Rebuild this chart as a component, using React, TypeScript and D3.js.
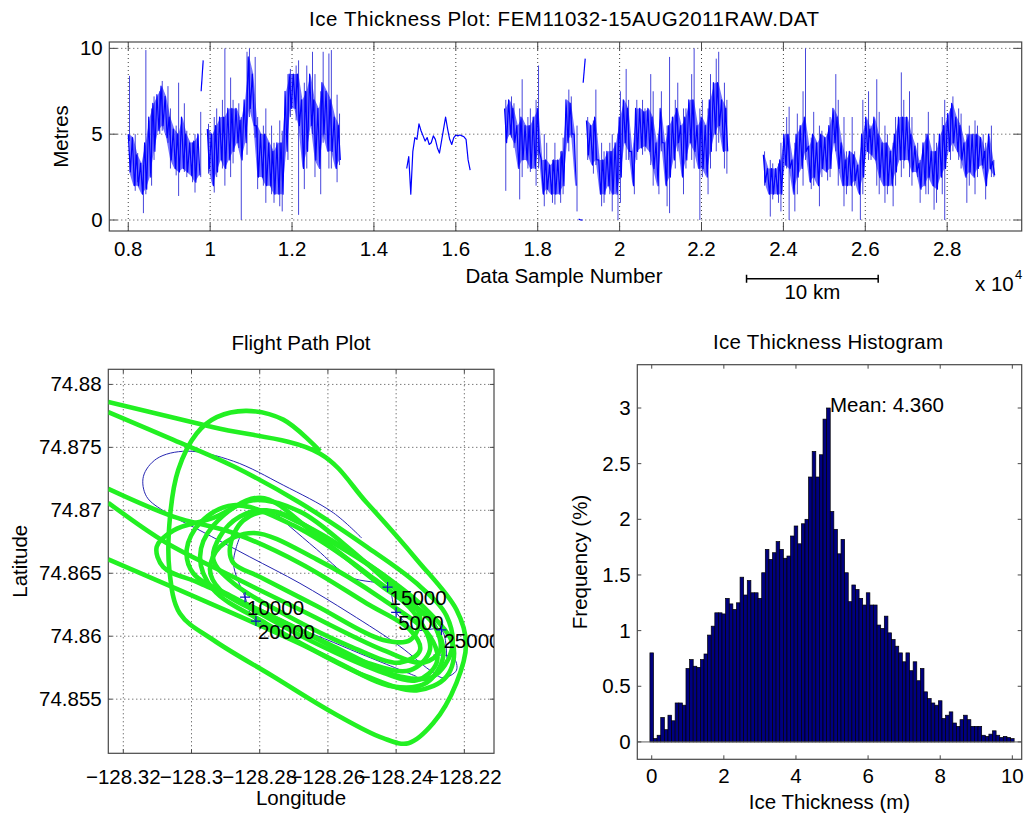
import React from 'react';
import * as d3 from 'd3';

const FONT = '"Liberation Sans", Arial, Helvetica, sans-serif';
const FS = 20.5;

// ---------------- Ice thickness trace (metres) ----------------
// Dense part of the record, per 100-sample window:
//   *Band  = (upper, lower) of the dense band      -> drawn as one value every 50 samples
//   *Range = (max, min) reached inside the window   -> thin excursions
const SAMPLE_STEP = 50;
const trace1aStart = 8000;
const trace1aBand = [5.0,2.8, 4.8,2.0, 3.8,2.0, 3.3,1.5, 4.5,1.8, 6.0,2.5, 6.8,4.0, 7.3,5.2, 7.8,5.5, 7.2,4.8, 6.0,3.5, 5.3,3.0, 5.0,2.8, 6.0,3.0, 5.0,2.8, 4.5,2.6, 4.6,2.2, 5.0,2.6];
const trace1aRange = [8.4,4.6, 5.0,1.7, 3.9,2.2, 3.2,0.4, 9.9,1.5, 6.5,2.0, 7.2,3.5, 7.5,5.0, 8.1,5.2, 7.8,4.5, 6.5,3.0, 5.5,2.6, 8.0,1.4, 6.8,2.8, 5.2,2.5, 4.5,2.2, 5.0,1.6, 6.3,2.5];
const trace1bStart = 9780;
const trace1b = [7.5, 9.3];
const trace1cStart = 9930;
const trace1cBand = [5.3,3.0, 5.0,2.0, 5.5,2.8, 6.0,3.5, 6.0,3.0, 6.5,3.5, 6.5,4.0, 6.5,4.5, 5.8,3.5, 7.0,4.5, 9.5,6.5, 8.5,5.5, 5.5,2.5, 5.0,2.5, 5.0,2.0, 4.5,2.0, 4.0,1.5, 4.5,1.5, 4.5,1.5, 7.5,4.0, 8.5,6.5, 8.5,6.5, 8.5,5.5, 7.0,3.0, 7.5,4.0, 8.5,5.5, 7.0,3.5, 6.5,3.0, 8.0,5.0, 7.5,4.0, 7.0,4.0, 6.0,3.0, 5.5,3.5];
const trace1cRange = [5.6,2.7, 6.0,1.6, 6.5,2.5, 7.0,3.0, 10.0,2.0, 8.3,2.5, 7.0,3.3, 6.8,4.2, 6.0,0.0, 9.8,3.8, 10.0,6.0, 9.5,4.8, 6.0,1.8, 5.5,2.0, 6.5,1.0, 5.5,1.5, 4.5,1.0, 5.8,0.8, 5.2,0.5, 8.5,3.5, 8.8,6.0, 9.0,5.8, 9.3,0.3, 8.0,1.8, 9.0,3.0, 9.8,5.0, 8.5,2.5, 7.5,1.5, 9.8,4.5, 9.7,3.0, 9.9,3.0, 7.3,2.2, 6.2,3.2];
const trace2Start = 14800;
const trace2 = [3.0, 3.7, 1.5, 4.0, 4.8, 4.7, 5.6, 5.2, 4.9, 4.6, 4.8, 4.4, 4.5, 4.9, 4.7, 4.2, 3.9, 4.6, 5.3, 6.0, 5.3, 4.7, 4.4, 4.8, 4.95, 4.9, 4.95, 4.9, 4.85, 4.7, 3.5, 2.9];
const trace3aStart = 17190;
const trace3aBand = [6.5,4.5, 7.0,5.0, 6.5,4.5, 5.5,3.0, 6.0,3.5, 5.5,3.5, 5.5,3.0, 6.0,3.0, 6.5,4.0, 3.5,1.5, 3.5,1.8, 3.2,1.5, 3.5,1.5, 3.5,1.5, 4.0,2.0, 7.0,4.5, 6.8,5.0, 5.0,2.0];
const trace3aRange = [7.0,1.7, 7.2,4.8, 6.8,4.2, 6.5,1.2, 8.2,2.5, 6.0,3.0, 6.5,2.8, 7.0,2.0, 9.0,3.0, 5.0,0.8, 4.5,1.5, 3.5,1.0, 4.5,0.9, 4.0,1.0, 4.8,1.5, 7.6,4.0, 7.2,4.8, 5.5,0.5];
const trace3zStart = 19000;
const trace3z = [0.05, 0.0, 0.0];
const trace3bStart = 19110;
const trace3b = [8.0, 9.4];
const trace3cStart = 19190;
const trace3cBand = [5.8,3.8, 5.5,3.2, 6.0,3.5, 3.5,1.5, 3.5,1.5, 4.0,2.0, 4.0,1.5, 4.5,1.5, 6.0,2.5, 7.0,4.5, 6.5,4.0, 4.0,2.0, 6.5,4.0, 6.5,4.2, 6.3,4.3, 6.5,4.0, 6.0,3.0, 4.5,2.0, 6.5,4.5, 4.5,2.0, 5.5,2.5, 6.0,3.5, 6.5,4.5, 5.5,2.5, 6.0,3.5, 7.0,4.5, 7.0,4.0, 5.5,3.0, 6.0,3.0, 5.5,2.5, 7.0,4.0, 8.0,5.0, 8.0,5.5, 7.0,4.0, 6.5,4.0];
const trace3cRange = [6.0,3.5, 5.8,2.7, 7.6,3.2, 4.5,0.8, 4.0,1.0, 4.5,1.5, 5.0,0.5, 5.0,0.0, 7.5,1.0, 8.8,3.5, 7.0,3.5, 4.5,1.5, 7.0,3.5, 7.0,3.8, 6.5,4.0, 8.5,3.2, 7.5,2.0, 5.0,1.5, 7.5,4.0, 5.5,0.8, 9.5,0.4, 7.0,3.0, 8.0,4.0, 6.5,1.5, 6.5,3.0, 8.5,3.5, 10.0,3.0, 6.5,0.0, 7.0,2.5, 6.5,1.5, 8.5,3.0, 9.4,4.0, 9.8,4.5, 8.0,3.0, 7.0,2.7];
const trace4Start = 23510;
const trace4Band = [3.8,2.2, 3.0,1.5, 3.0,1.5, 3.0,1.5, 3.5,1.5, 5.0,3.2, 5.0,3.0, 3.5,1.5, 5.0,2.5, 5.5,3.0, 6.0,4.0, 4.3,2.2, 5.0,2.5, 4.5,2.0, 5.0,3.0, 4.8,2.8, 5.5,3.0, 6.5,4.5, 6.0,3.0, 4.5,2.0, 3.5,2.0, 4.0,2.0, 3.8,2.3, 3.2,1.5, 5.0,2.5, 6.0,4.0, 5.3,3.8, 6.0,3.5, 5.0,2.5, 4.5,2.0, 4.5,2.0, 4.0,2.0, 5.0,2.8, 6.0,3.5, 6.0,3.5, 6.0,3.5, 5.0,2.8, 4.3,2.8, 3.3,1.8, 4.5,2.0, 5.0,2.5, 4.0,2.0, 4.0,1.8, 5.0,2.5, 5.5,3.0, 6.2,4.0, 6.8,4.5, 6.0,4.0, 5.5,3.5, 4.5,2.5, 5.0,2.8, 5.0,2.5, 5.0,3.0, 4.8,3.2, 4.0,2.0, 5.0,3.0, 3.4,2.6];
const trace4Range = [4.0,2.0, 3.5,0.2, 3.3,1.2, 3.3,1.0, 4.5,0.5, 6.0,3.0, 6.6,0.0, 4.5,0.5, 6.2,1.5, 7.5,2.0, 10.0,3.5, 4.8,1.8, 6.3,2.0, 5.5,0.8, 5.2,2.5, 5.0,2.3, 6.0,2.5, 8.5,4.0, 7.0,2.0, 6.0,0.8, 4.0,1.5, 6.0,0.5, 4.0,2.0, 3.5,0.0, 7.0,1.5, 7.5,3.5, 5.5,3.5, 8.2,2.0, 6.3,1.5, 5.5,1.0, 5.0,1.5, 4.5,0.8, 6.0,2.0, 8.6,2.5, 7.0,3.0, 7.5,2.5, 6.0,2.0, 4.5,2.5, 3.5,1.0, 5.0,1.5, 6.3,1.5, 5.0,0.6, 4.5,1.0, 6.0,1.5, 7.0,0.0, 6.5,3.5, 7.2,4.0, 6.5,3.5, 6.2,3.0, 5.0,1.0, 5.5,2.0, 5.8,1.5, 5.5,2.5, 5.0,3.0, 4.5,1.2, 5.5,2.5, 3.5,2.5];

const topXDomain = [7537, 29820];
const topYDomain = [-0.64, 10.37];
const topXTicks = [8000, 10000, 12000, 14000, 16000, 18000, 20000, 22000, 24000, 26000, 28000];
const topYTicks = [0, 5, 10];
const scaleBarStartSample = 23100;
const scaleBarSamples = 3215; // 10 km

// ---------------- Flight path (lon, lat) ----------------
const greenTrack1: [number, number][] = [[-128.3244,74.8786],[-128.2936,74.8766],[-128.2623,74.8745],[-128.2486,74.8706],[-128.2340,74.8661],[-128.2223,74.8621],[-128.2195,74.8594],[-128.2223,74.8563],[-128.2291,74.8531],[-128.2364,74.8515],[-128.2438,74.8519],[-128.2584,74.8539],[-128.2760,74.8568],[-128.2936,74.8597],[-128.3034,74.8618],[-128.3065,74.8653],[-128.3063,74.8695],[-128.3039,74.8732],[-128.2985,74.8761],[-128.2926,74.8774],[-128.2838,74.8779],[-128.2731,74.8772],[-128.2623,74.8747]];
const greenTrack2: [number, number][] = [[-128.3244,74.8778],[-128.3053,74.8756],[-128.2877,74.8735],[-128.2682,74.8706],[-128.2486,74.8671],[-128.2340,74.8642],[-128.2252,74.8616],[-128.2237,74.8589],[-128.2291,74.8568],[-128.2389,74.8568],[-128.2584,74.8592],[-128.2780,74.8618],[-128.2975,74.8642],[-128.3083,74.8655],[-128.3102,74.8671],[-128.3053,74.8684],[-128.2936,74.8694],[-128.2819,74.8708],[-128.2682,74.8699],[-128.2535,74.8669],[-128.2389,74.8634],[-128.2291,74.8610],[-128.2271,74.8589],[-128.2320,74.8579],[-128.2438,74.8589],[-128.2682,74.8621],[-128.2877,74.8647],[-128.3073,74.8674],[-128.3244,74.8706]];
const greenTrack3: [number, number][] = [[-128.3244,74.8717],[-128.3053,74.8695],[-128.2877,74.8682],[-128.2682,74.8658],[-128.2486,74.8626],[-128.2359,74.8605],[-128.2330,74.8589],[-128.2389,74.8579],[-128.2535,74.8592],[-128.2731,74.8618],[-128.2877,74.8642],[-128.2936,74.8661],[-128.2917,74.8679],[-128.2858,74.8695],[-128.2780,74.8700],[-128.2682,74.8690],[-128.2486,74.8658],[-128.2311,74.8621],[-128.2232,74.8592],[-128.2252,74.8568],[-128.2340,74.8557],[-128.2486,74.8568],[-128.2682,74.8594],[-128.2877,74.8618],[-128.3244,74.8661]];
const greenLoop1: [number, number][] = [[-128.2887,74.8671],[-128.2848,74.8692],[-128.2760,74.8699],[-128.2584,74.8674],[-128.2408,74.8642],[-128.2330,74.8616],[-128.2359,74.8597],[-128.2438,74.8597],[-128.2633,74.8624],[-128.2799,74.8647],[-128.2877,74.8658]];
const greenLoop2: [number, number][] = [[-128.2975,74.8663],[-128.2936,74.8688],[-128.2799,74.8710],[-128.2633,74.8680],[-128.2438,74.8639],[-128.2291,74.8610],[-128.2262,74.8584],[-128.2311,74.8563],[-128.2408,74.8560],[-128.2584,74.8581],[-128.2780,74.8610],[-128.2936,74.8637]];
const greenLoop3: [number, number][] = [[-128.3014,74.8669],[-128.2975,74.8690],[-128.2877,74.8704],[-128.2701,74.8688],[-128.2486,74.8650],[-128.2340,74.8616],[-128.2301,74.8589],[-128.2359,74.8573],[-128.2486,74.8579],[-128.2682,74.8605],[-128.2877,74.8631],[-128.2995,74.8650]];
const greenLoop4: [number, number][] = [[-128.2946,74.8653],[-128.2917,74.8671],[-128.2819,74.8682],[-128.2633,74.8661],[-128.2438,74.8629],[-128.2301,74.8600],[-128.2281,74.8579],[-128.2340,74.8565],[-128.2457,74.8573],[-128.2633,74.8594],[-128.2799,74.8618],[-128.2917,74.8637]];
const blueTrack1: [number, number][] = [[-128.2501,74.8678],[-128.2584,74.8698],[-128.2731,74.8720],[-128.2877,74.8739],[-128.3014,74.8747],[-128.3102,74.8741],[-128.3141,74.8727],[-128.3132,74.8711],[-128.3073,74.8698],[-128.2975,74.8684],[-128.2829,74.8663],[-128.2682,74.8642],[-128.2535,74.8618],[-128.2389,74.8592],[-128.2301,74.8573],[-128.2262,74.8567],[-128.2223,74.8573],[-128.2232,74.8583],[-128.2291,74.8585]];
const blueTrack2: [number, number][] = [[-128.2868,74.8692],[-128.2838,74.8699],[-128.2760,74.8698],[-128.2711,74.8687],[-128.2633,74.8669],[-128.2535,74.8647],[-128.2425,74.8639],[-128.2400,74.8619],[-128.2340,74.8605],[-128.2267,74.8605],[-128.2252,74.8583]];
const blueTrack3: [number, number][] = [[-128.2858,74.8679],[-128.2877,74.8658],[-128.2843,74.8631],[-128.2811,74.8612],[-128.2682,74.8605],[-128.2486,74.8584],[-128.2340,74.8568]];
const markerLabels = ['5000', '10000', '15000', '20000', '25000'];
const markerLon = [-128.2400, -128.2843, -128.2425, -128.2811, -128.2267];
const markerLat = [74.8619, 74.8631, 74.8639, 74.8612, 74.8605];

const fpXDomain = [-128.3244, -128.2113];
const fpYDomain = [74.8507, 74.8812];
const fpXTicks = [-128.32, -128.3, -128.28, -128.26, -128.24, -128.22];
const fpYTicks = [74.855, 74.86, 74.865, 74.87, 74.875, 74.88];

// ---------------- Histogram ----------------
const histBinWidth = 0.1;
const histFreq = [0.80,0.03,0.06,0.22,0.11,0.24,0.19,0.35,0.35,0.33,
  0.66,0.74,0.68,0.67,0.74,0.79,0.96,1.04,1.16,1.16,
  1.15,1.29,1.24,1.19,1.25,1.48,1.32,1.45,1.34,1.34,
  1.29,1.52,1.73,1.64,1.70,1.80,1.73,1.65,1.67,1.85,
  1.94,1.78,1.96,2.00,2.38,2.61,2.38,2.58,2.90,3.00,
  2.07,1.91,1.69,1.82,1.52,1.26,1.41,1.37,1.29,1.23,
  1.34,1.23,1.23,1.05,1.02,1.13,0.98,0.92,0.86,0.80,
  0.72,0.80,0.64,0.72,0.55,0.66,0.45,0.39,0.35,0.33,
  0.37,0.21,0.24,0.27,0.17,0.14,0.20,0.24,0.20,0.14,
  0.14,0.14,0.06,0.05,0.07,0.10,0.06,0.04,0.05,0.04,0.03];
const histMean = 4.360;
const histXDomain = [-0.4, 10.26];
const histYDomain = [-0.156, 3.389];
const histXTicks = [0, 2, 4, 6, 8, 10];
const histYTicks = [0, 0.5, 1, 1.5, 2, 2.5, 3];

// ---------------- layout ----------------
const TOPBOX = { l: 109.3, r: 1021.7, t: 42, b: 231 };
const FPBOX = { l: 108.3, r: 494, t: 369.3, b: 753.3 };
const HBOX = { l: 637.3, r: 1021.7, t: 364.7, b: 759.3 };

const AXIS_COLOR = '#484848';
const GRID_COLOR = '#404040';

const minus = (s: string) => s.replace('-', '\u2212');

function Frame({ box, x, y, xTicks, yTicks, tickLen, grid }: any) {
  const els: any[] = [];
  if (grid) {
    xTicks.forEach((t: number, i: number) => els.push(
      <line key={'gx' + i} x1={x(t)} x2={x(t)} y1={box.t} y2={box.b} stroke={GRID_COLOR} strokeWidth={1} strokeDasharray="1,3" />));
    yTicks.forEach((t: number, i: number) => els.push(
      <line key={'gy' + i} x1={box.l} x2={box.r} y1={y(t)} y2={y(t)} stroke={GRID_COLOR} strokeWidth={1} strokeDasharray="1,3" />));
  }
  xTicks.forEach((t: number, i: number) => {
    els.push(<line key={'tb' + i} x1={x(t)} x2={x(t)} y1={box.b} y2={box.b - tickLen} stroke={AXIS_COLOR} />);
    els.push(<line key={'tt' + i} x1={x(t)} x2={x(t)} y1={box.t} y2={box.t + tickLen} stroke={AXIS_COLOR} />);
  });
  yTicks.forEach((t: number, i: number) => {
    els.push(<line key={'tl' + i} x1={box.l} x2={box.l + tickLen} y1={y(t)} y2={y(t)} stroke={AXIS_COLOR} />);
    els.push(<line key={'tr' + i} x1={box.r} x2={box.r - tickLen} y1={y(t)} y2={y(t)} stroke={AXIS_COLOR} />);
  });
  els.push(<rect key="box" x={box.l} y={box.t} width={box.r - box.l} height={box.b - box.t} fill="none" stroke={AXIS_COLOR} strokeWidth={1.2} />);
  return <g>{els}</g>;
}

function TickLabels({ box, x, y, xTicks, yTicks, xFmt, yFmt, xOffset }: any) {
  return (
    <g fontSize={FS} fill="#000">
      {xTicks.map((t: number, i: number) => (
        <text key={'xl' + i} x={x(t)} y={box.b + xOffset} textAnchor="middle">{xFmt(t)}</text>
      ))}
      {yTicks.map((t: number, i: number) => (
        <text key={'yl' + i} x={box.l - 6.6} y={y(t) + 7} textAnchor="end">{yFmt(t)}</text>
      ))}
    </g>
  );
}

export default function App() {
  // ---- top plot
  const xT = d3.scaleLinear().domain(topXDomain).range([TOPBOX.l, TOPBOX.r]);
  const yT = d3.scaleLinear().domain(topYDomain).range([TOPBOX.b, TOPBOX.t]);
  const denseTraces = [
    { start: trace1aStart, band: trace1aBand, range: trace1aRange },
    { start: trace1cStart, band: trace1cBand, range: trace1cRange },
    { start: trace3aStart, band: trace3aBand, range: trace3aRange },
    { start: trace3cStart, band: trace3cBand, range: trace3cRange },
    { start: trace4Start, band: trace4Band, range: trace4Range },
  ];
  const plainTraces = [
    { start: trace1bStart, values: trace1b },
    { start: trace2Start, values: trace2 },
    { start: trace3zStart, values: trace3z },
    { start: trace3bStart, values: trace3b },
  ];
  const tracePath = (start: number) => d3.line<number>()
    .x((_, i) => xT(start + i * SAMPLE_STEP))
    .y((v) => yT(v));
  const bandArea = (start: number) => d3.area<[number, number]>()
    .x((_, i) => xT(start + i * 2 * SAMPLE_STEP + SAMPLE_STEP / 2))
    .y0((d) => yT(d[1]))
    .y1((d) => yT(d[0]));
  const pairs = (vals: number[]) => d3.range(0, vals.length - 1, 2).map((i) => [vals[i], vals[i + 1]] as [number, number]);

  // ---- flight path
  const xF = d3.scaleLinear().domain(fpXDomain).range([FPBOX.l, FPBOX.r]);
  const yF = d3.scaleLinear().domain(fpYDomain).range([FPBOX.b, FPBOX.t]);
  const openLine = d3.line<[number, number]>().x((d) => xF(d[0])).y((d) => yF(d[1])).curve(d3.curveCatmullRom.alpha(0.5));
  const closedLine = d3.line<[number, number]>().x((d) => xF(d[0])).y((d) => yF(d[1])).curve(d3.curveCatmullRomClosed.alpha(0.5));

  // ---- histogram
  const xH = d3.scaleLinear().domain(histXDomain).range([HBOX.l, HBOX.r]);
  const yH = d3.scaleLinear().domain(histYDomain).range([HBOX.b, HBOX.t]);
  const peakIdx = histFreq.indexOf(d3.max(histFreq) as number);

  const sbX0 = xT(scaleBarStartSample);
  const sbX1 = xT(scaleBarStartSample + scaleBarSamples);
  const sbY = 278.7;

  return (
    <svg width={1024} height={814} style={{ position: 'absolute', left: 0, top: 0, background: '#fff' }} fontFamily={FONT}>
      <defs>
        <clipPath id="clipTop"><rect x={TOPBOX.l} y={TOPBOX.t} width={TOPBOX.r - TOPBOX.l} height={TOPBOX.b - TOPBOX.t} /></clipPath>
        <clipPath id="clipFP"><rect x={FPBOX.l} y={FPBOX.t} width={FPBOX.r - FPBOX.l} height={FPBOX.b - FPBOX.t} /></clipPath>
      </defs>
      <rect x={0} y={0} width={1024} height={814} fill="#fff" />

      {/* ================= Top: ice thickness trace ================= */}
      <Frame box={TOPBOX} x={xT} y={yT} xTicks={topXTicks} yTicks={topYTicks} tickLen={8} grid />
      <g clipPath="url(#clipTop)">
        {denseTraces.map((tr, k) => (
          <g key={'d' + k}>
            {pairs(tr.range).map((p, i) => {
              const xx = xT(tr.start + i * 2 * SAMPLE_STEP + (i % 2 ? 70 : 30));
              return <line key={i} x1={xx} x2={xx} y1={yT(p[0])} y2={yT(p[1])} stroke="#4646dc" strokeWidth={1} />;
            })}
            <path d={bandArea(tr.start)(pairs(tr.band)) || ''} fill="#0000ff" fillOpacity={0.55} stroke="none" />
            <path d={tracePath(tr.start)(tr.band) || ''} fill="none" stroke="#0000ff" strokeWidth={1.2} strokeLinejoin="round" />
          </g>
        ))}
        {plainTraces.map((tr, i) => (
          <path key={'p' + i} d={tracePath(tr.start)(tr.values) || ''} fill="none" stroke="#0000ff" strokeWidth={1.2} strokeLinejoin="round" />
        ))}
      </g>
      <TickLabels box={TOPBOX} x={xT} y={yT} xTicks={topXTicks} yTicks={topYTicks}
        xFmt={(t: number) => String(+(t / 1e4).toFixed(1))} yFmt={(t: number) => String(t)} xOffset={25.3} />
      <text x={564} y={25.5} fontSize={FS} textAnchor="middle" textLength={510} lengthAdjust="spacing">Ice Thickness Plot: FEM11032-15AUG2011RAW.DAT</text>
      <text x={564} y={282.5} fontSize={FS} textAnchor="middle">Data Sample Number</text>
      <text transform="translate(68,136.5) rotate(-90)" fontSize={FS} textAnchor="middle">Metres</text>
      <text x={975} y={290.5} fontSize={FS}>x 10</text>
      <text x={1015} y={278.5} fontSize={13}>4</text>
      <path d={`M${sbX0},${sbY}H${sbX1}M${sbX0},${sbY - 4}V${sbY + 4}M${sbX1},${sbY - 4}V${sbY + 4}`} stroke="#000" strokeWidth={1.5} fill="none" />
      <text x={(sbX0 + sbX1) / 2} y={299} fontSize={FS} textAnchor="middle">10 km</text>

      {/* ================= Flight path ================= */}
      <Frame box={FPBOX} x={xF} y={yF} xTicks={fpXTicks} yTicks={fpYTicks} tickLen={4} grid />
      <g clipPath="url(#clipFP)">
        {[blueTrack1, blueTrack2, blueTrack3].map((t, i) => (
          <path key={'b' + i} d={openLine(t) || ''} fill="none" stroke="#2525b0" strokeWidth={1} />
        ))}
        {[greenTrack1, greenTrack2, greenTrack3].map((t, i) => (
          <path key={'g' + i} d={openLine(t) || ''} fill="none" stroke="#22f022" strokeWidth={4.6} strokeLinejoin="round" />
        ))}
        {[greenLoop1, greenLoop2, greenLoop3, greenLoop4].map((t, i) => (
          <path key={'gl' + i} d={closedLine(t) || ''} fill="none" stroke="#22f022" strokeWidth={4.6} strokeLinejoin="round" />
        ))}
        {markerLabels.map((lab, i) => {
          const px = xF(markerLon[i]);
          const py = yF(markerLat[i]);
          return (
            <g key={'m' + i}>
              <path d={`M${px - 5},${py}H${px + 5}M${px},${py - 5}V${py + 5}`} stroke="#1010c0" strokeWidth={1.2} />
              <text x={px + 2} y={py + 18} fontSize={FS}>{lab}</text>
            </g>
          );
        })}
      </g>
      <TickLabels box={FPBOX} x={xF} y={yF} xTicks={fpXTicks} yTicks={fpYTicks}
        xFmt={(t: number) => minus(String(t))} yFmt={(t: number) => String(t)} xOffset={30.2} />
      <text x={301} y={350.3} fontSize={FS} textAnchor="middle">Flight Path Plot</text>
      <text x={301} y={805.3} fontSize={FS} textAnchor="middle">Longitude</text>
      <text transform="translate(26.5,561.3) rotate(-90)" fontSize={FS} textAnchor="middle">Latitude</text>

      {/* ================= Histogram ================= */}
      <g>
        {histFreq.map((v, i) => {
          const c = i * histBinWidth;
          const x0 = xH(c - histBinWidth / 2);
          const x1 = xH(c + histBinWidth / 2);
          return <rect key={'h' + i} x={x0} y={yH(v)} width={x1 - x0} height={yH(0) - yH(v)} fill="#000080" stroke="#000" strokeWidth={0.7} />;
        })}
      </g>
      <line x1={HBOX.l} x2={HBOX.r} y1={yH(0)} y2={yH(0)} stroke="#606060" strokeWidth={1} />
      <Frame box={HBOX} x={xH} y={yH} xTicks={histXTicks} yTicks={histYTicks} tickLen={4} grid={false} />
      <TickLabels box={HBOX} x={xH} y={yH} xTicks={histXTicks} yTicks={histYTicks}
        xFmt={(t: number) => String(t)} yFmt={(t: number) => String(t)} xOffset={24} />
      <text x={xH(peakIdx * histBinWidth) + 1.6} y={yH(histFreq[peakIdx]) + 3.6} fontSize={FS}>{`Mean: ${histMean.toFixed(3)}`}</text>
      <text x={828} y={348.6} fontSize={FS} textAnchor="middle" textLength={230} lengthAdjust="spacing">Ice Thickness Histogram</text>
      <text x={829.5} y={808.6} fontSize={FS} textAnchor="middle">Ice Thickness (m)</text>
      <text transform="translate(587,562) rotate(-90)" fontSize={FS} textAnchor="middle">Frequency (%)</text>
    </svg>
  );
}
